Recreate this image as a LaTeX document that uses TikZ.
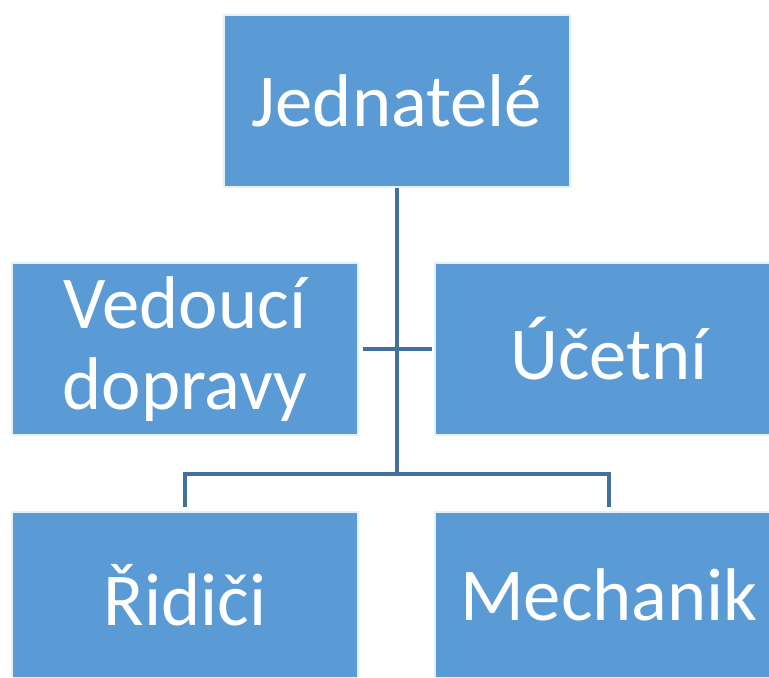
\documentclass[tikz,border=0pt]{standalone}
\usepackage{fontspec}
\setmainfont{Carlito}
\definecolor{boxblue}{HTML}{5B9BD5}
\definecolor{lineblue}{HTML}{41719C}
\tikzset{
  orgbox/.style={fill=boxblue, draw=white!85!boxblue, line width=1pt, text=white,
    inner sep=0pt, align=center, font=\fontsize{56}{61}\selectfont},
  orgline/.style={draw=lineblue, line width=2.4pt}
}
\begin{document}
\begin{tikzpicture}[x=0.75pt,y=-0.75pt]

    \useasboundingbox (0,0) rectangle (769,678);

    % Boxes
    \node[orgbox, minimum width=346*0.75pt, minimum height=172*0.75pt] (jed) at (397,101) {Jednatelé};
    \node[orgbox, minimum width=346*0.75pt, minimum height=172*0.75pt] (ved) at (185,349) {Vedoucí\\dopravy};
    \node[orgbox, minimum width=348*0.75pt, minimum height=172*0.75pt] (uce) at (609,349) {Účetní};
    \node[orgbox, minimum width=346*0.75pt, minimum height=166*0.75pt] (rid) at (185,595) {Řidiči};
    \node[orgbox, minimum width=348*0.75pt, minimum height=166*0.75pt] (mech) at (609,595) {Mechanik};

    % Connectors
    \coordinate (split) at (397,474);
    \draw[orgline] (jed.south) -- (split);
    \draw[orgline, shorten <=3pt, shorten >=2pt] (ved.east) -- (uce.west);
    \draw[orgline, shorten >=3pt] (split) -| (rid.north);
    \draw[orgline, shorten >=3pt] (split) -| (mech.north);

\end{tikzpicture}
\end{document}
